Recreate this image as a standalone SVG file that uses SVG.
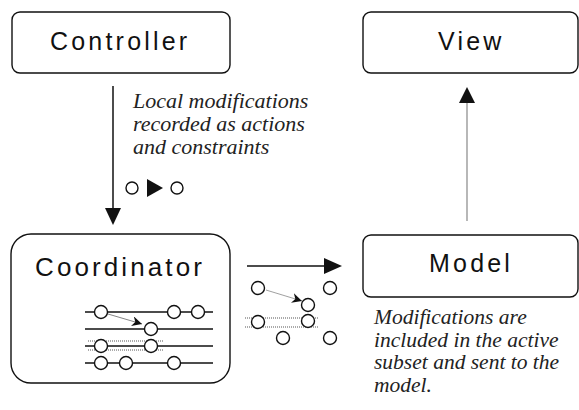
<svg xmlns="http://www.w3.org/2000/svg" width="579" height="410" viewBox="0 0 579 410">
<style>
.box{fill:#fff;stroke:#111;stroke-width:1.4}
.lbl{font-family:"Liberation Sans",Arial,sans-serif;font-size:25px;letter-spacing:3.2px;fill:#111}
.note{font-family:"Liberation Serif","Times New Roman",serif;font-style:italic;font-size:22px;fill:#222}
.c{fill:#fff;stroke:#111;stroke-width:1.4}
.ln{stroke:#111;stroke-width:1.4}
.band{stroke:#aaa;stroke-width:2;stroke-dasharray:1 1}
</style>
<defs>
<marker id="sm" viewBox="0 0 10 10" refX="10" refY="5" markerWidth="10" markerHeight="10" markerUnits="userSpaceOnUse" orient="auto">
<path d="M0,0 L10,5 L0,10 L3,5 Z" fill="#111"/>
</marker>
</defs>
<rect width="579" height="410" fill="#fff"/>
<g id="controller">
<rect class="box" x="12" y="12" width="218" height="61" rx="8"/>
<text class="lbl" x="50" y="50">Controller</text>
</g>
<g id="view">
<rect class="box" x="363" y="12" width="215" height="61" rx="8"/>
<text class="lbl" x="438" y="50">View</text>
</g>
<g id="model">
<rect class="box" x="363" y="235" width="215" height="62" rx="8"/>
<text class="lbl" x="429" y="272">Model</text>
</g>
<g id="coordinator">
<rect class="box" x="11" y="234" width="219" height="149" rx="20"/>
<text class="lbl" x="35" y="276" style="font-size:26px;letter-spacing:3.1px">Coordinator</text>
<line class="band" x1="88" y1="341" x2="163" y2="341"/>
<line class="band" x1="88" y1="350" x2="163" y2="350"/>
<line class="ln" x1="85" y1="312" x2="213" y2="312"/>
<line class="ln" x1="85" y1="329" x2="213" y2="329"/>
<line class="ln" x1="85" y1="346" x2="213" y2="346"/>
<line class="ln" x1="85" y1="363" x2="213" y2="363"/>
<circle class="c" cx="101" cy="312" r="6.5"/>
<circle class="c" cx="174" cy="312" r="6.5"/>
<circle class="c" cx="198" cy="312" r="6.5"/>
<circle class="c" cx="151" cy="329" r="6.5"/>
<circle class="c" cx="101" cy="346" r="6.5"/>
<circle class="c" cx="151" cy="346" r="6.5"/>
<circle class="c" cx="101" cy="363" r="6.5"/>
<circle class="c" cx="126" cy="363" r="6.5"/>
<circle class="c" cx="174" cy="363" r="6.5"/>
<line x1="108" y1="314" x2="142" y2="324" stroke="#666" stroke-width="0.8" marker-end="url(#sm)"/>
</g>
<g id="connectors">
<line x1="113" y1="86" x2="113" y2="209" stroke="#111" stroke-width="1.5"/>
<path d="M105,208 L121,208 L113,225 Z" fill="#111"/>
<line x1="467" y1="102" x2="467" y2="221" stroke="#888" stroke-width="1.2"/>
<path d="M459,103 L475,103 L467,87 Z" fill="#111"/>
<line x1="247" y1="266" x2="325" y2="266" stroke="#111" stroke-width="1.5"/>
<path d="M324,258 L324,274 L342,266 Z" fill="#111"/>
</g>
<g id="notes">
<text class="note"><tspan x="133" y="108">Local modifications</tspan><tspan x="133" y="131">recorded as actions</tspan><tspan x="133" y="154">and constraints</tspan></text>
<circle class="c" cx="132" cy="188" r="6"/>
<path d="M147,179 L147,197 L163,188 Z" fill="#111"/>
<circle class="c" cx="177" cy="188" r="6"/>
<text class="note" style="font-size:21.5px"><tspan x="374" y="324">Modifications are</tspan><tspan x="374" y="346.5">included in the active</tspan><tspan x="374" y="369">subset and sent to the</tspan><tspan x="374" y="391.5">model.</tspan></text>
</g>
<g id="cluster">
<line class="band" x1="245" y1="318" x2="318" y2="318"/>
<line class="band" x1="245" y1="327" x2="318" y2="327"/>
<circle class="c" cx="258" cy="288" r="6.5"/>
<circle class="c" cx="330" cy="288" r="6.5"/>
<circle class="c" cx="308" cy="305" r="6.5"/>
<circle class="c" cx="258" cy="322" r="6.5"/>
<circle class="c" cx="308" cy="321" r="6.5"/>
<circle class="c" cx="283" cy="338" r="6.5"/>
<circle class="c" cx="330" cy="338" r="6.5"/>
<line x1="266" y1="290" x2="302" y2="301" stroke="#888" stroke-width="0.8" marker-end="url(#sm)"/>
</g>
</svg>
